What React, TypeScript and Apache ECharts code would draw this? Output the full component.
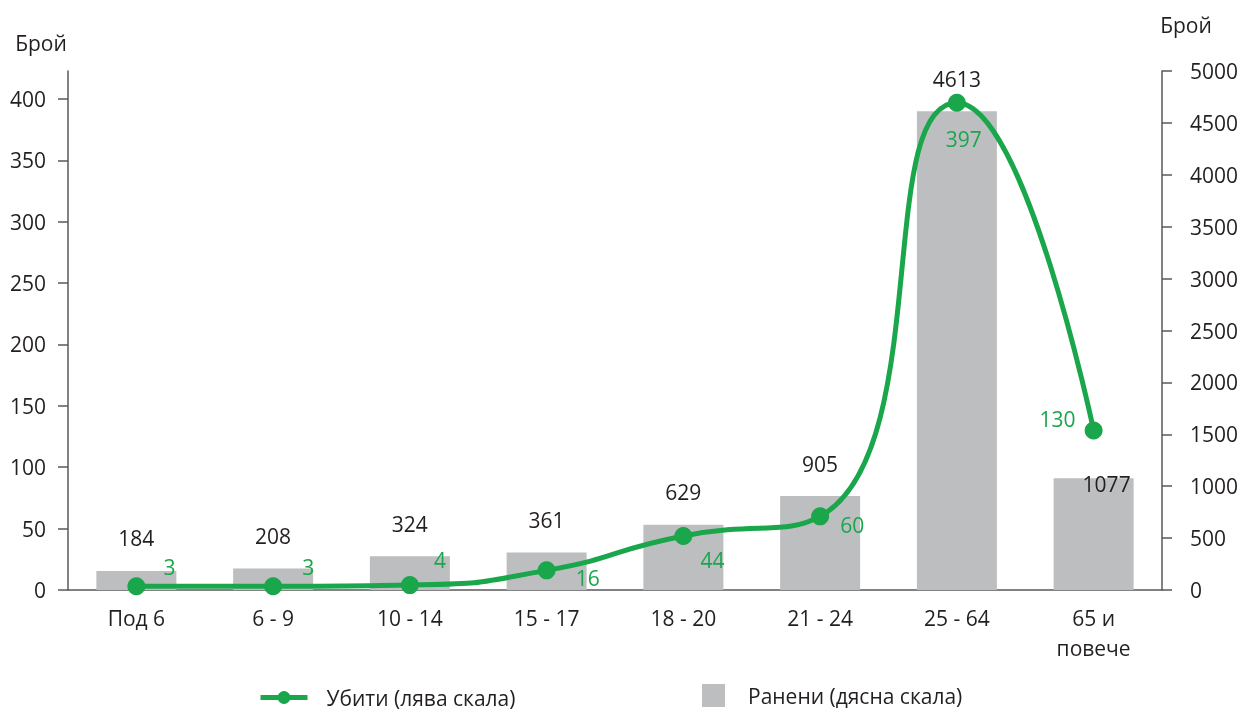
import React, { useEffect, useRef } from "react";
import * as echarts from "echarts";

const categories = ["Под 6", "6 - 9", "10 - 14", "15 - 17", "18 - 20", "21 - 24", "25 - 64", "65 и\nповече"];
const killed = [3, 3, 4, 16, 44, 60, 397, 130];
const injured = [184, 208, 324, 361, 629, 905, 4613, 1077];
const leftTicks = [0, 50, 100, 150, 200, 250, 300, 350, 400];
const killedLabelOffsets = [[33, -19], [35, -19], [30, -25], [41, 8], [29, 24], [32, 9], [7, 36], [-36, -11]];

const GREEN = "#1aa64b";
const GRAY = "#bcbec0";
const TEXT = "#231f20";
const AXIS = "#58595b";
const FONT = "Open Sans";
const FS = 21;

export default function App() {
  const ref = useRef<HTMLDivElement>(null);
  useEffect(() => {
    const chart = echarts.init(ref.current!, undefined, { renderer: "svg" });
    chart.setOption({
      animation: false,
      textStyle: { fontFamily: FONT, color: TEXT, fontSize: FS },
      grid: { left: 68, right: 81, top: 71, bottom: 122 },
      legend: [
        {
          left: 253,
          top: 682,
          itemWidth: 47,
          itemHeight: 16,
          lineStyle: { width: 5 },
          data: ["Убити (лява скала)"],
          textStyle: { fontFamily: FONT, fontSize: FS, color: TEXT, padding: [0, 0, 0, 14] },
        },
        {
          left: 697,
          top: 679,
          itemWidth: 23,
          itemHeight: 23,
          icon: "rect",
          data: ["Ранени (дясна скала)"],
          textStyle: { fontFamily: FONT, fontSize: FS, color: TEXT, padding: [0, 0, 0, 18] },
        },
      ],
      xAxis: {
        type: "category",
        data: categories,
        axisLine: { lineStyle: { color: AXIS, width: 1.5 } },
        axisTick: { show: false },
        axisLabel: { color: TEXT, fontSize: FS, fontFamily: FONT, lineHeight: 30, margin: 13 },
      },
      yAxis: [
        {
          type: "value",
          min: 0,
          max: 422.8,
          interval: 50,
          position: "left",
          name: "Брой",
          nameLocation: "end",
          nameGap: 28,
          nameTextStyle: { color: TEXT, fontSize: FS, fontFamily: FONT, align: "center", verticalAlign: "middle", padding: [0, 54, 0, 0] },
          axisLine: { show: true, lineStyle: { color: AXIS, width: 1.5 } },
          axisTick: { show: true, length: 10, lineStyle: { color: AXIS, width: 1.5 }, customValues: leftTicks },
          axisLabel: { color: TEXT, fontSize: FS, fontFamily: FONT, margin: 22, customValues: leftTicks },
          splitLine: { show: false },
        },
        {
          type: "value",
          min: 0,
          max: 5000,
          interval: 500,
          position: "right",
          name: "Брой",
          nameLocation: "end",
          nameGap: 46,
          nameTextStyle: { color: TEXT, fontSize: FS, fontFamily: FONT, align: "center", verticalAlign: "middle", padding: [0, 0, 0, 48] },
          axisLine: { show: true, lineStyle: { color: AXIS, width: 1.5 } },
          axisTick: { show: true, length: 10, lineStyle: { color: AXIS, width: 1.5 } },
          axisLabel: { color: TEXT, fontSize: FS, fontFamily: FONT, margin: 28, formatter: (v: number) => String(v) },
          splitLine: { show: false },
        },
      ],
      series: [
        {
          name: "Ранени (дясна скала)",
          type: "bar",
          yAxisIndex: 1,
          barWidth: 80,
          itemStyle: { color: GRAY },
          data: injured.map((v, i) =>
            i === injured.length - 1
              ? { value: v, label: { position: "insideTop", distance: 0, offset: [13, -5] } }
              : v
          ),
          label: { show: true, position: "top", distance: 22, color: TEXT, fontSize: FS, fontFamily: FONT },
          z: 1,
        },
        {
          name: "Убити (лява скала)",
          type: "line",
          yAxisIndex: 0,
          smooth: 0.55,
          symbol: "circle",
          symbolSize: 18,
          lineStyle: { color: GREEN, width: 5 },
          itemStyle: { color: GREEN },
          data: killed.map((v, i) => ({
            value: v,
            label: { offset: killedLabelOffsets[i] },
          })),
          label: { show: true, position: "inside", color: GREEN, fontSize: FS, fontFamily: FONT },
          z: 3,
        },
      ],
    });
    return () => chart.dispose();
  }, []);
  return <div ref={ref} style={{ position: "fixed", left: 0, top: 0, width: 1243, height: 712 }} />;
}
